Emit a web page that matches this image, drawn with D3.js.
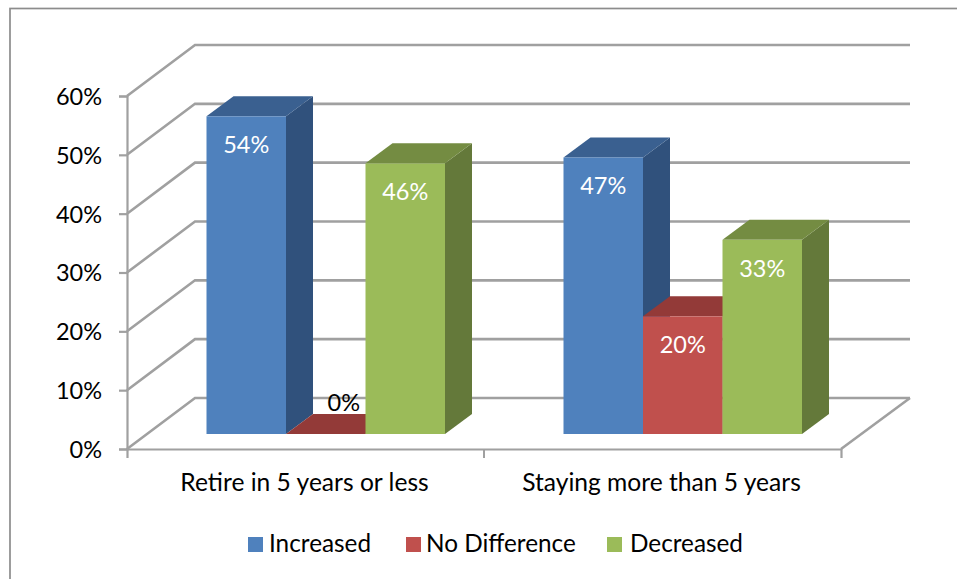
<!DOCTYPE html>
<html><head><meta charset="utf-8">
<script src="https://cdn.jsdelivr.net/npm/d3@7"></script>
<style>html,body{margin:0;padding:0;background:#fff}svg{display:block}text{font-family:Lato,"Open Sans",sans-serif}</style>
</head><body><svg id="c" width="957" height="579"></svg>
<script>
const categories=["Retire in 5 years or less","Staying more than 5 years"];
const seriesNames=["Increased","No Difference","Decreased"];
const increased=[54,47];
const noDifference=[0,20];
const decreased=[46,33];
const yTicks=[0,10,20,30,40,50,60];
const seriesValues=[increased,noDifference,decreased];
const frontColors=["#4F81BD","#C0504D","#9BBB59"];
const topColors=["#3A6090","#933A38","#748C42"];
const sideColors=["#30517C","#7E322F","#64793A"];

const svg=d3.select("#c");
const y=d3.scaleLinear().domain([0,60]).range([449,96]);
const x0=d3.scaleBand().domain(categories).range([127,841]);
const x1=d3.scaleBand().domain(seriesNames).range([59.5,298]);
const wallDx=68,wallDy=-51,barDx=20,barDy=-15,depthDx=27,depthDy=-20,wallRight=910;
const grid="#A0A0A0";

svg.append("rect").attr("x",10).attr("y",8.5).attr("width",1000).attr("height",640).attr("fill","none").attr("stroke","#8c8c8c").attr("stroke-width",1.7);

const g=svg.append("g").attr("fill","none").attr("stroke",grid).attr("stroke-width",2.6);
yTicks.forEach(t=>{
  g.append("path").attr("d",`M${x0.range()[0]},${y(t)}L${x0.range()[0]+wallDx},${y(t)+wallDy}L${wallRight},${y(t)+wallDy}`);
});
g.append("path").attr("d",`M${wallRight},${y(0)+wallDy}L${x0.range()[1]},${y(0)}`);

const yAxis=d3.axisLeft(y).tickValues(yTicks).tickFormat(d=>d+"%").tickSize(8).tickPadding(17);
const ya=svg.append("g").attr("transform","translate(127,0)").call(yAxis);
const xAxis=d3.axisBottom(x0).tickValues([]).tickSizeOuter(9);
const xa=svg.append("g").attr("transform","translate(0,449)").call(xAxis);
[ya,xa].forEach(a=>{a.selectAll("path,line").attr("stroke",grid).attr("stroke-width",2.2);});
ya.selectAll("text").attr("font-size",23.5).attr("fill","#000").attr("dy","0.36em");
svg.append("g").selectAll("line").data([484]).join("line").attr("x1",d=>d).attr("x2",d=>d).attr("y1",449).attr("y2",458).attr("stroke",grid).attr("stroke-width",2);

svg.append("g").selectAll("text").data(categories).join("text")
 .attr("x",d=>x0(d)+x0.bandwidth()/2-1).attr("y",491).attr("text-anchor","middle").attr("font-size",24.6).attr("fill","#000").text(d=>d);

const bars=svg.append("g");
const labels=svg.append("g");
categories.forEach((c,ci)=>{
  seriesNames.forEach((s,si)=>{
    const v=seriesValues[si][ci];
    const bw=x1.bandwidth();
    const xl=x0(c)+x1(s)+barDx, xr=xl+bw, yt=y(v)+barDy, yb=y(0)+barDy;
    const G=bars.append("g");
    G.append("path").attr("fill",sideColors[si]).attr("d",`M${xr},${yt}L${xr+depthDx},${yt+depthDy}L${xr+depthDx},${yb+depthDy}L${xr},${yb}Z`);
    G.append("path").attr("fill",topColors[si]).attr("d",`M${xl},${yt}L${xl+depthDx},${yt+depthDy}L${xr+depthDx},${yt+depthDy}L${xr},${yt}Z`);
    G.append("rect").attr("x",xl).attr("y",yt).attr("width",bw).attr("height",yb-yt).attr("fill",frontColors[si]);
    labels.append("text").attr("x",xl+bw/2+(v===0?18:0)).attr("y",v===0?yt-23:yt+37).attr("text-anchor","middle").attr("font-size",23.5).attr("fill",v===0?"#000":"#fff").text(v+"%");
  });
});

const legendX=[248,406,607], legendTextX=[269,426,630];
const lg=svg.append("g");
seriesNames.forEach((s,i)=>{
  lg.append("rect").attr("x",legendX[i]).attr("y",537).attr("width",15).attr("height",15).attr("fill",frontColors[i]);
  lg.append("text").attr("x",legendTextX[i]).attr("y",552).attr("font-size",24.3).attr("fill","#000").text(s);
});
</script></body></html>
